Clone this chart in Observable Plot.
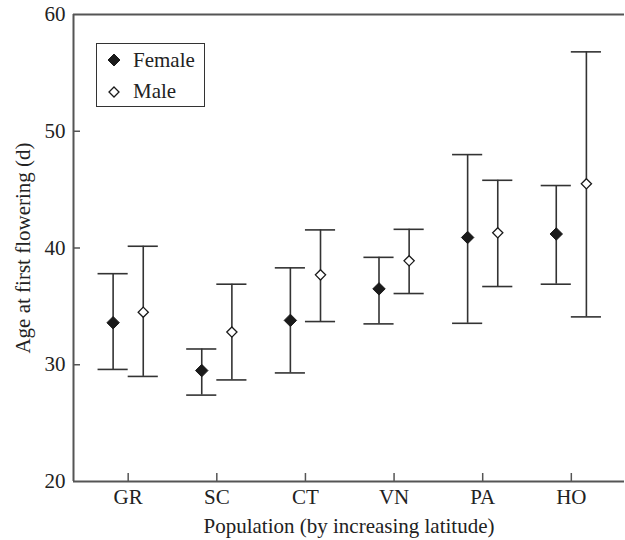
<!DOCTYPE html>
<html>
<head>
<meta charset="utf-8">
<script src="https://cdn.jsdelivr.net/npm/d3@7"></script>
<script src="https://cdn.jsdelivr.net/npm/@observablehq/plot@0.6"></script>
<style>
  html, body { margin: 0; padding: 0; background: white; }
  #wrap { position: relative; width: 625px; height: 540px; font-family: "Liberation Serif", "Times New Roman", serif; }
  #wrap svg text { font-family: "Liberation Serif", "Times New Roman", serif; }
  #legend { position: absolute; left: 96px; top: 43px; width: 109px; height: 64px; border: 1.4px solid #333; background: white; box-sizing: border-box; }
  #legend .row { position: absolute; left: 0; height: 24px; display: flex; align-items: center; font-size: 21px; color: #222; }
  #legend svg { display: block; margin-left: 10px; margin-right: 12px; }
</style>
</head>
<body>
<div id="wrap"></div>
<script>
const populations = ["GR", "SC", "CT", "VN", "PA", "HO"];
const femaleMean = [33.6, 29.5, 33.8, 36.5, 40.9, 41.2];
const femaleLow  = [29.6, 27.4, 29.3, 33.5, 33.55, 36.9];
const femaleHigh = [37.8, 31.35, 38.3, 39.2, 48.0, 45.35];
const maleMean   = [34.5, 32.8, 37.7, 38.9, 41.3, 45.5];
const maleLow    = [29.0, 28.7, 33.7, 36.1, 36.7, 34.1];
const maleHigh   = [40.15, 36.9, 41.55, 41.6, 45.8, 56.8];
const yTicks = [20, 30, 40, 50, 60];
const seriesNames = ["Female", "Male"];

const xDomain = [-0.617, 5.6];
const yDomain = [20, 60];
const dodge = 0.17;   // offset of each sex from the population position
const cap = 0.17;     // half-width of error bar caps

const rows = [];
populations.forEach((p, i) => {
  rows.push({pop: p, sex: "Female", x: i - dodge, mean: femaleMean[i], lo: femaleLow[i], hi: femaleHigh[i]});
  rows.push({pop: p, sex: "Male", x: i + dodge, mean: maleMean[i], lo: maleLow[i], hi: maleHigh[i]});
});
const female = rows.filter(d => d.sex === "Female");
const male = rows.filter(d => d.sex === "Male");

const W = 625, H = 540, mL = 73, mR = 1, mT = 14, mB = 59;
const pxPerX = (W - mL - mR) / (xDomain[1] - xDomain[0]);
const pxPerY = (H - mT - mB) / (yDomain[1] - yDomain[0]);
const yTickLen = 7 / pxPerX;
const xTickLen = 8 / pxPerY;

const axisColor = "#555";
const barColor = "#333";
const serif = "Liberation Serif, Times New Roman, serif";

const chart = Plot.plot({
  width: W, height: H,
  marginLeft: mL, marginRight: mR, marginTop: mT, marginBottom: mB,
  style: {fontFamily: serif, fontSize: "21px", color: "#222", background: "white", overflow: "visible"},
  x: {type: "linear", domain: xDomain, axis: null},
  y: {type: "linear", domain: yDomain, axis: null},
  marks: [
    // frame
    Plot.ruleY(yDomain, {stroke: axisColor, strokeWidth: 2}),
    Plot.ruleX([xDomain[0]], {stroke: axisColor, strokeWidth: 2}),
    // inward ticks
    Plot.ruleY(yTicks.slice(1, -1), {y: d => d, x1: xDomain[0], x2: xDomain[0] + yTickLen, stroke: axisColor, strokeWidth: 1.5}),
    Plot.ruleX(populations.map((p, i) => i), {x: d => d, y1: yDomain[0], y2: yDomain[0] + xTickLen, stroke: axisColor, strokeWidth: 1.5}),
    // tick labels
    Plot.axisY({ticks: yTicks, tickSize: 0, tickPadding: 8, label: null, fontSize: 21, fontFamily: serif}),
    Plot.axisX({ticks: populations.map((p, i) => i), tickFormat: i => populations[i], tickSize: 0, tickPadding: 8, label: null, fontSize: 21, fontFamily: serif}),
    // axis titles
    Plot.text(["Age at first flowering (d)"], {frameAnchor: "left", textAnchor: "middle", lineAnchor: "middle", rotate: -90, dx: -50, fontSize: 21, fontFamily: serif, fill: "#222"}),
    Plot.text(["Population (by increasing latitude)"], {frameAnchor: "bottom", textAnchor: "middle", lineAnchor: "middle", dy: 45, fontSize: 21, fontFamily: serif, fill: "#222"}),
    // error bars
    Plot.ruleX(rows, {x: "x", y1: "lo", y2: "hi", stroke: barColor, strokeWidth: 1.6}),
    Plot.ruleY(rows, {y: "hi", x1: d => d.x - cap, x2: d => d.x + cap, stroke: barColor, strokeWidth: 1.6}),
    Plot.ruleY(rows, {y: "lo", x1: d => d.x - cap, x2: d => d.x + cap, stroke: barColor, strokeWidth: 1.6}),
    // means
    Plot.dot(female, {x: "x", y: "mean", symbol: "diamond2", r: 5.6, fill: "#1a1a1a", stroke: "#1a1a1a", strokeWidth: 1, strokeLinejoin: "round"}),
    Plot.dot(male, {x: "x", y: "mean", symbol: "diamond2", r: 4.6, fill: "white", stroke: "#1a1a1a", strokeWidth: 1.3})
  ]
});

const wrap = document.getElementById("wrap");
wrap.appendChild(chart);

const legend = document.createElement("div");
legend.id = "legend";
const markers = [
  '<svg width="14" height="14" viewBox="-7 -7 14 14"><path d="M0,-6L6,0L0,6L-6,0Z" fill="#1a1a1a" stroke="#1a1a1a" stroke-width="1" stroke-linejoin="round"/></svg>',
  '<svg width="14" height="14" viewBox="-7 -7 14 14"><path d="M0,-5L5,0L0,5L-5,0Z" fill="white" stroke="#1a1a1a" stroke-width="1.3"/></svg>'
];
seriesNames.forEach((name, i) => {
  const row = document.createElement("div");
  row.className = "row";
  row.style.top = (4 + i * 31.5) + "px";
  row.innerHTML = markers[i] + "<span>" + name + "</span>";
  legend.appendChild(row);
});
wrap.appendChild(legend);
</script>
</body>
</html>
